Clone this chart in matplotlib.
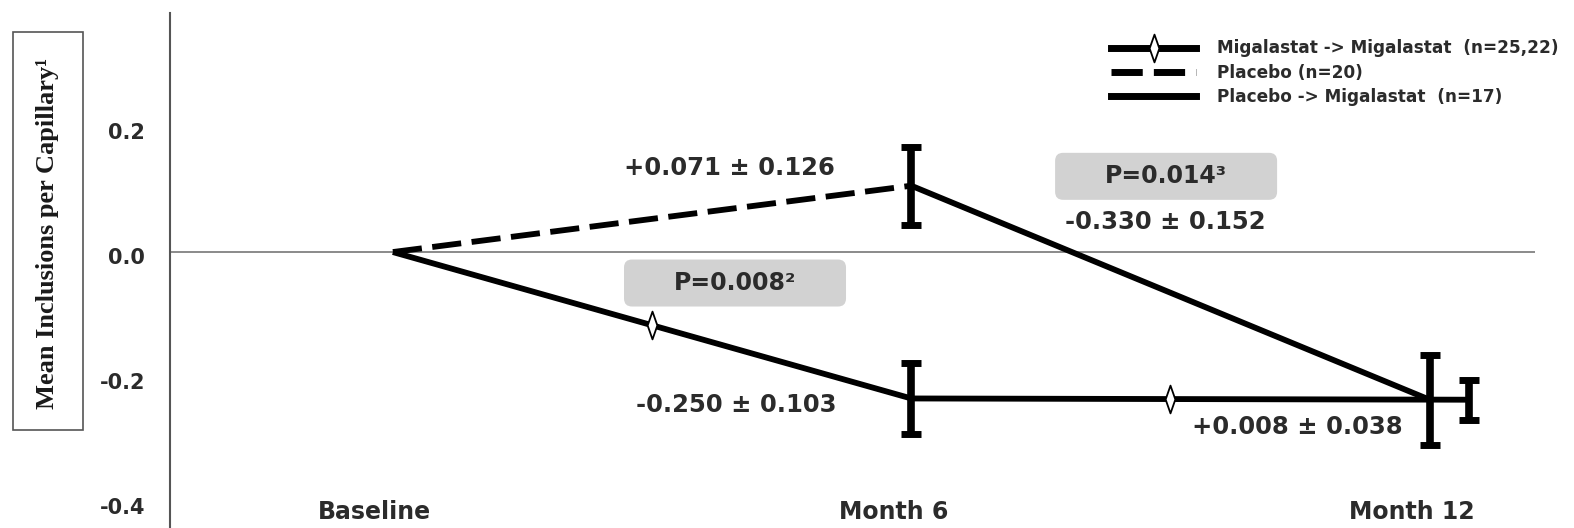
import numpy as np
import matplotlib
matplotlib.use("Agg")
import matplotlib.pyplot as plt
from matplotlib.lines import Line2D
from matplotlib.path import Path
from matplotlib.patches import FancyBboxPatch, Rectangle
from matplotlib.transforms import IdentityTransform, ScaledTranslation

# ---------------- data ----------------
timepoints = ["Baseline", "Month 6", "Month 12"]
months = [0, 6, 12]

placebo_y = [0.0, 0.106]            # Baseline -> Month 6
placebo_err6 = 0.062

mig_mig_y = [0.0, -0.234, -0.236]    # Baseline, Month 6, Month 12
mig_mig_err = [0.057, 0.032]         # at Month 6, Month 12

plac_mig_y = [0.106, -0.236]         # Month 6 -> Month 12
plac_mig_err12 = 0.072

legend_labels = ["Migalastat -> Migalastat  (n=25,22)",
                 "Placebo (n=20)",
                 "Placebo -> Migalastat  (n=17)"]

yticks = [-0.4, -0.2, 0.0, 0.2]
ytick_labels = ["-0.4", "-0.2", "0.0", "0.2"]

change_labels = ["+0.071 \u00b1 0.126", "-0.330 \u00b1 0.152",
                 "-0.250 \u00b1 0.103", "+0.008 \u00b1 0.038"]
pvalue_labels = ["P=0.014\u00b3", "P=0.008\u00b2"]
ylabel = "Mean Inclusions per Capillary\u00b9"

# ---------------- style ----------------
W, H = 1574, 528
TXT = "#2b2b2b"
FONT = "DejaVu Sans"
LW = 4.2
MIG_DODGE = 0.46
dash = (0, (5, 1.8))
diamond = Path([(0, 1), (0.35, 0), (0, -1), (-0.35, 0), (0, 1)],
               [Path.MOVETO, Path.LINETO, Path.LINETO, Path.LINETO, Path.CLOSEPOLY])
eb_kw = dict(fmt="none", ecolor="black", elinewidth=5.5, capsize=7, capthick=5, zorder=4)

fig = plt.figure(figsize=(W / 100, H / 100), dpi=100)
ax = fig.add_axes([170 / W, 0, (1535 - 170) / W, 1 - 13 / H])
ax.set_xlim(-2.58, 13.22)
ax.set_ylim(-0.441, 0.382)

for s in ["top", "right", "bottom"]:
    ax.spines[s].set_visible(False)
ax.spines["left"].set_color("#555555")
ax.spines["left"].set_linewidth(1.5)
ax.axhline(0, color="#777777", lw=1.2, zorder=1)

ax.set_xticks([])
ax.set_yticks(yticks)
ax.set_yticklabels(ytick_labels, fontsize=15, fontweight="bold", color=TXT, family=FONT)
ax.tick_params(axis="y", length=0, pad=18)
off = ScaledTranslation(0, -4 / 100, fig.dpi_scale_trans)
for lab in ax.get_yticklabels():
    lab.set_transform(lab.get_transform() + off)

# x category labels (placed at the bottom level of the axis)
xoff = ScaledTranslation(-18 / 100, 0, fig.dpi_scale_trans)
for m, t in zip(months, timepoints):
    ax.text(m, -0.415, t, ha="center", va="center", fontsize=17, fontweight="bold",
            color=TXT, family=FONT, transform=ax.transData + xoff)

# lines
pl_x = months[:2]
ax.plot(pl_x, placebo_y, color="black", lw=LW, linestyle=dash, zorder=3)
ax.errorbar([months[1]], [placebo_y[1]], yerr=[placebo_err6], **eb_kw)

mm_x = [months[0], months[1], months[2] + MIG_DODGE]
ax.plot(mm_x, mig_mig_y, color="black", lw=LW, zorder=3, solid_capstyle="butt")
ax.errorbar(mm_x[1:], mig_mig_y[1:], yerr=mig_mig_err, **eb_kw)
mid_x = [(months[0] + months[1]) / 2, (months[1] + months[2]) / 2]
mid_y = np.interp(mid_x, mm_x, mig_mig_y)
ax.plot(mid_x, mid_y, linestyle="none", marker=diamond, ms=20, mfc="white",
        mec="black", mew=1.3, zorder=5)

pm_x = months[1:]
ax.plot(pm_x, plac_mig_y, color="black", lw=LW, zorder=3)
ax.errorbar([months[2]], [plac_mig_y[1]], yerr=[plac_mig_err12], **eb_kw)

# annotations
ann_pos = [(3.89, 0.134), (8.94, 0.048), (3.98, -0.244), (10.47, -0.280)]
for (x, y), s in zip(ann_pos, change_labels):
    ax.text(x, y, s, ha="center", va="center", fontsize=17.5, fontweight="bold",
            color=TXT, family=FONT, zorder=6)

fig.canvas.draw()
p_pos = [(8.95, 0.121), (3.96, -0.0495)]
for (x, y), s in zip(p_pos, pvalue_labels):
    cx, cy = ax.transData.transform((x, y))
    bw, bh = 222, 47
    box = FancyBboxPatch((cx - bw / 2, cy - bh / 2), bw, bh,
                         boxstyle="round,pad=0,rounding_size=8",
                         transform=IdentityTransform(), fc="#d2d2d2", ec="none", zorder=2)
    ax.add_artist(box)
    ax.text(x, y, s, ha="center", va="center", fontsize=17, fontweight="bold",
            color=TXT, family=FONT, zorder=6)

# legend
handles = [
    Line2D([], [], color="black", lw=5, marker=diamond, ms=20, mfc="white",
           mec="black", mew=1.3),
    Line2D([], [], color="black", lw=5, linestyle=(0, (4.5, 1.6))),
    Line2D([], [], color="black", lw=5),
]
ax.legend(handles, legend_labels, loc="upper left",
          bbox_to_anchor=(1103 / W, 1 - 31 / H), bbox_transform=fig.transFigure,
          frameon=False, borderpad=0, handlelength=5.0, handletextpad=1.2,
          labelspacing=0.36, numpoints=1,
          prop=dict(family=FONT, weight="bold", size=12.2))
for t in ax.get_legend().get_texts():
    t.set_color(TXT)

# y label in a box
fig.add_artist(Rectangle((13 / W, 98 / H), 70 / W, 398 / H, transform=fig.transFigure,
                         fc="white", ec="#555555", lw=1.2))
fig.text(48 / W, 1 - 233 / H, ylabel, rotation=90, ha="center", va="center",
         fontsize=19, fontweight="bold", family="Liberation Serif", color="#1a1a1a")

fig.savefig("out.png", dpi=100)
